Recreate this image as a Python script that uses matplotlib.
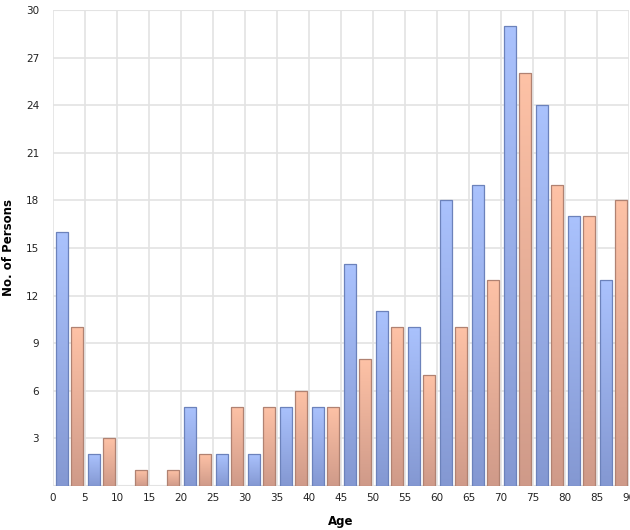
import numpy as np
import matplotlib
matplotlib.use('Agg')
import matplotlib.pyplot as plt
from matplotlib.colors import LinearSegmentedColormap

# Age bins (start of each 5-year bin) and counts for the two series
age_bins = [0, 5, 10, 15, 20, 25, 30, 35, 40, 45, 50, 55, 60, 65, 70, 75, 80, 85]
blue_counts = [16, 2, 0, 0, 5, 2, 2, 5, 5, 14, 11, 10, 18, 19, 29, 24, 17, 13]
orange_counts = [10, 3, 1, 1, 2, 5, 5, 6, 5, 8, 10, 7, 10, 13, 26, 19, 17, 18]
x_ticks = list(range(0, 95, 5))
y_ticks = list(range(3, 31, 3))

fig = plt.figure(figsize=(6.3, 5.3), dpi=100)
ax = fig.add_axes([53 / 630, 44 / 530, 576 / 630, 476 / 530])

blue_cmap = LinearSegmentedColormap.from_list('b', ['#8498d2', '#aac2fd'])
orange_cmap = LinearSegmentedColormap.from_list('o', ['#cf9a89', '#fec2a6'])
grad = np.linspace(0, 1, 256).reshape(-1, 1)

def gradient_bars(xs, heights, cmap, edge):
    bars = ax.bar(xs, heights, width=1.9, color='none', edgecolor=edge,
                  linewidth=0.9, zorder=3)
    for bar in bars:
        h = bar.get_height()
        if h <= 0:
            bar.set_visible(False)
            continue
        x0 = bar.get_x()
        im = ax.imshow(grad, extent=[x0, x0 + bar.get_width(), 0, h],
                       origin='lower', cmap=cmap, aspect='auto', zorder=2)
        im.set_clip_path(bar)

x_blue = [b + 1.45 for b in age_bins]
x_orange = [b + 3.75 for b in age_bins]
gradient_bars(x_blue, blue_counts, blue_cmap, '#6c82bb')
gradient_bars(x_orange, orange_counts, orange_cmap, '#b08272')

ax.set_xlim(0, 90)
ax.set_ylim(0, 30)
ax.set_xticks(x_ticks)
ax.set_yticks(y_ticks)
ax.grid(True, color='#e3e3e3', linewidth=1.2, zorder=0)
ax.set_axisbelow(True)
for s in ax.spines.values():
    s.set_visible(False)
ax.axhline(0, color='#e3e3e3', linewidth=1.5, zorder=1)
ax.axhline(30, color='#e3e3e3', linewidth=1.5, zorder=1)
ax.tick_params(length=0, labelsize=7.5, labelcolor='#222222', pad=5)
ax.tick_params(axis='y', pad=10)
ax.set_xlabel('Age', fontsize=8.5, fontweight='bold', labelpad=9)
ax.set_ylabel('No. of Persons', fontsize=8.5, fontweight='bold', labelpad=8)

fig.savefig('out.png', dpi=100)
